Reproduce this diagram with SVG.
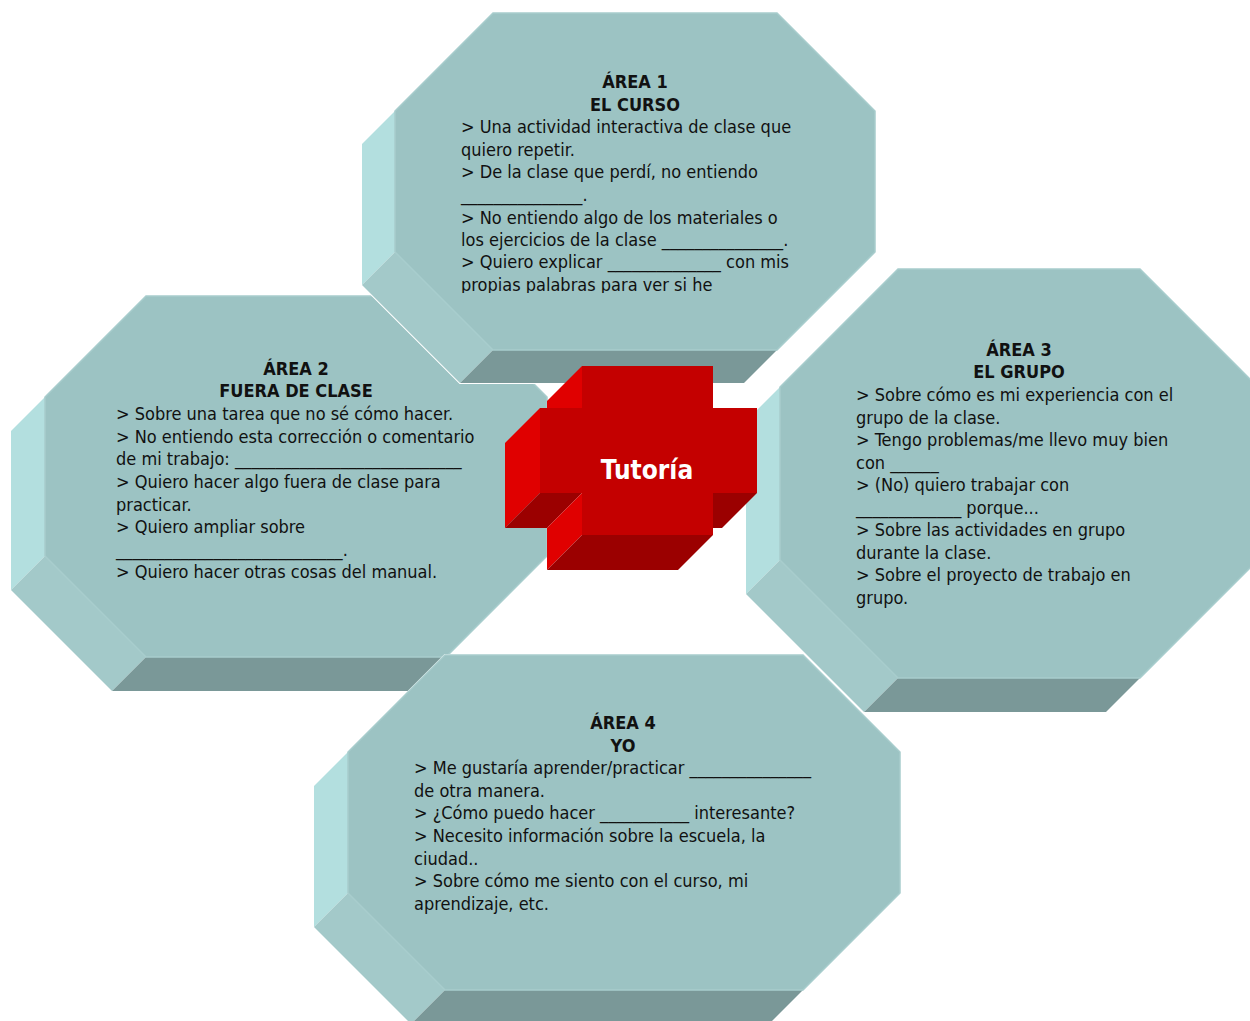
<svg xmlns="http://www.w3.org/2000/svg" width="1250" height="1021" viewBox="0 0 1250 1021">
<style>
.sil{fill:#ffffff;stroke:#ffffff;stroke-width:2;stroke-linejoin:miter}
.front{fill:#9cc3c3;stroke:#a8cdcd;stroke-width:1.5}
.lf{fill:#b3dfdf}
.df{fill:#a3c9c9}
.bf{fill:#7a9898}
.t{font-family:"DejaVu Sans Condensed","DejaVu Sans",sans-serif;font-stretch:condensed;font-size:18px;fill:#111111}
.h{font-family:"DejaVu Sans Condensed","DejaVu Sans",sans-serif;font-stretch:condensed;font-size:18px;font-weight:bold;fill:#111111;text-anchor:middle}
.cf{fill:#c40000}
.cl{fill:#e00000}
.cd{fill:#9b0000}
.ct{font-family:"DejaVu Sans Condensed","DejaVu Sans",sans-serif;font-stretch:condensed;font-size:26px;font-weight:bold;fill:#ffffff;text-anchor:middle}
</style>
<defs>
<clipPath id="clip1"><rect x="395" y="13" width="480" height="280"/></clipPath>
</defs>
<g id="connectors"/>

<g id="area2">
<polygon class="sil" points="146,296 446,296 547,397 547,556 446,657 412,691 112,691 11,590 11,431"/>
<polygon class="lf" points="45,397 45,556 11,590 11,431"/>
<polygon class="df" points="45,556 146,657 112,691 11,590"/>
<polygon class="bf" points="146,657 446,657 412,691 112,691"/>
<polygon class="front" points="146,296 446,296 547,397 547,556 446,657 146,657 45,556 45,397"/>
<text class="h" x="296" y="375">ÁREA 2</text>
<text class="h" x="296" y="397">FUERA DE CLASE</text>
<text class="t" x="116" y="420">&gt; Sobre una tarea que no sé cómo hacer.</text>
<text class="t" x="116" y="443">&gt; No entiendo esta corrección o comentario</text>
<text class="t" x="116" y="465">de mi trabajo: ____________________________</text>
<text class="t" x="116" y="488">&gt; Quiero hacer algo fuera de clase para</text>
<text class="t" x="116" y="511">practicar.</text>
<text class="t" x="116" y="533">&gt; Quiero ampliar sobre</text>
<text class="t" x="116" y="556">____________________________.</text>
<text class="t" x="116" y="578">&gt; Quiero hacer otras cosas del manual.</text>
</g>

<g id="area3">
<polygon class="sil" points="898,269 1140,269 1258,387 1258,560 1140,678 1106,712 864,712 746,594 746,421"/>
<polygon class="lf" points="780,387 780,560 746,594 746,421"/>
<polygon class="df" points="780,560 898,678 864,712 746,594"/>
<polygon class="bf" points="898,678 1140,678 1106,712 864,712"/>
<polygon class="front" points="898,269 1140,269 1258,387 1258,560 1140,678 898,678 780,560 780,387"/>
<text class="h" x="1019" y="356">ÁREA 3</text>
<text class="h" x="1019" y="378">EL GRUPO</text>
<text class="t" x="856" y="401">&gt; Sobre cómo es mi experiencia con el</text>
<text class="t" x="856" y="424">grupo de la clase.</text>
<text class="t" x="856" y="446">&gt; Tengo problemas/me llevo muy bien</text>
<text class="t" x="856" y="469">con ______</text>
<text class="t" x="856" y="491">&gt; (No) quiero trabajar con</text>
<text class="t" x="856" y="514">_____________ porque...</text>
<text class="t" x="856" y="536">&gt; Sobre las actividades en grupo</text>
<text class="t" x="856" y="559">durante la clase.</text>
<text class="t" x="856" y="581">&gt; Sobre el proyecto de trabajo en</text>
<text class="t" x="856" y="604">grupo.</text>
</g>

<g id="area1">
<polygon class="sil" points="493,13 777,13 875,111 875,252 777,350 744,383 460,383 362,285 362,144"/>
<polygon class="lf" points="395,111 395,252 362,285 362,144"/>
<polygon class="df" points="395,252 493,350 460,383 362,285"/>
<polygon class="bf" points="493,350 777,350 744,383 460,383"/>
<polygon class="front" points="493,13 777,13 875,111 875,252 777,350 493,350 395,252 395,111"/>
<text class="h" x="635" y="88">ÁREA 1</text>
<text class="h" x="635" y="111">EL CURSO</text>
<g clip-path="url(#clip1)">
<text class="t" x="461" y="133">&gt; Una actividad interactiva de clase que</text>
<text class="t" x="461" y="156">quiero repetir.</text>
<text class="t" x="461" y="178">&gt; De la clase que perdí, no entiendo</text>
<text class="t" x="461" y="201">_______________.</text>
<text class="t" x="461" y="224">&gt; No entiendo algo de los materiales o</text>
<text class="t" x="461" y="246">los ejercicios de la clase _______________.</text>
<text class="t" x="461" y="268">&gt; Quiero explicar ______________ con mis</text>
<text class="t" x="461" y="291">propias palabras para ver si he</text>
</g>
</g>

<g id="area4">
<polygon class="sil" points="445,655 803,655 900,752 900,893 803,990 769,1024 411,1024 314,927 314,786"/>
<polygon class="lf" points="348,752 348,893 314,927 314,786"/>
<polygon class="df" points="348,893 445,990 411,1024 314,927"/>
<polygon class="bf" points="445,990 803,990 769,1024 411,1024"/>
<polygon class="front" points="445,655 803,655 900,752 900,893 803,990 445,990 348,893 348,752"/>
<text class="h" x="623" y="729">ÁREA 4</text>
<text class="h" x="623" y="752">YO</text>
<text class="t" x="414" y="774">&gt; Me gustaría aprender/practicar _______________</text>
<text class="t" x="414" y="797">de otra manera.</text>
<text class="t" x="414" y="819">&gt; ¿Cómo puedo hacer ___________ interesante?</text>
<text class="t" x="414" y="842">&gt; Necesito información sobre la escuela, la</text>
<text class="t" x="414" y="865">ciudad..</text>
<text class="t" x="414" y="887">&gt; Sobre cómo me siento con el curso, mi</text>
<text class="t" x="414" y="910">aprendizaje, etc.</text>
</g>

<g id="tutoria">
<polygon class="cl" points="582,366 582,408 547,443 547,401"/>
<polygon class="cl" points="540,408 540,493 505,528 505,443"/>
<polygon class="cd" points="540,493 582,493 547,528 505,528"/>
<polygon class="cl" points="582,493 582,535 547,570 547,528"/>
<polygon class="cd" points="582,535 713,535 678,570 547,570"/>
<polygon class="cd" points="713,493 757,493 722,528 678,528"/>
<polygon class="cf" points="582,366 713,366 713,408 757,408 757,493 713,493 713,535 582,535 582,493 540,493 540,408 582,408"/>
<text class="ct" x="647" y="479">Tutoría</text>
</g>
</svg>
